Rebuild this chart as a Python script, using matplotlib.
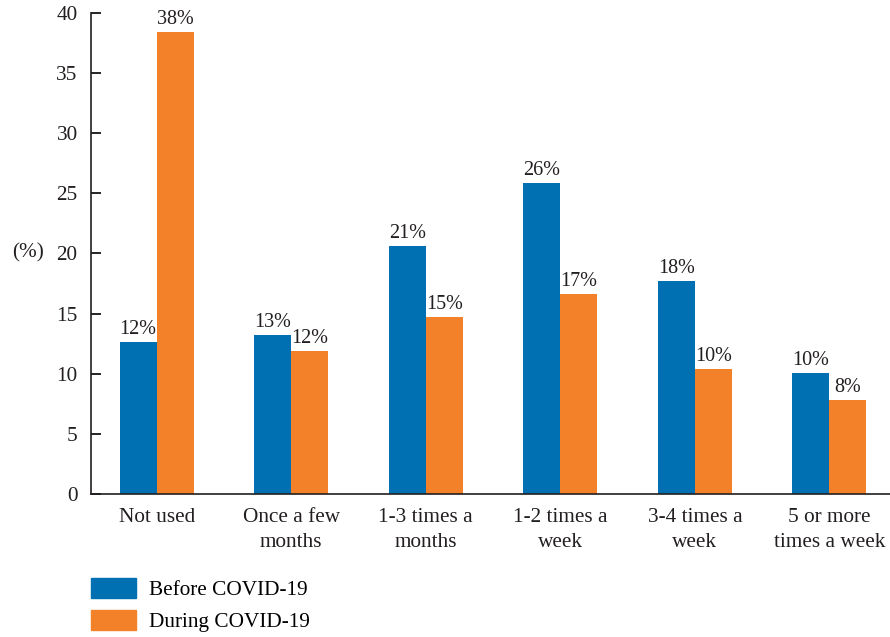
import numpy as np
import matplotlib
matplotlib.use("Agg")
import matplotlib.pyplot as plt
from matplotlib.patches import Patch

categories = ["Not used", "Once a few\nmonths", "1-3 times a\nmonths",
              "1-2 times a\nweek", "3-4 times a\nweek", "5 or more\ntimes a week"]
before = [12.6, 13.2, 20.6, 25.9, 17.7, 10.1]
during = [38.4, 11.9, 14.7, 16.6, 10.4, 7.8]
before_labels = ["12%", "13%", "21%", "26%", "18%", "10%"]
during_labels = ["38%", "12%", "15%", "17%", "10%", "8%"]
series_names = ["Before COVID-19", "During COVID-19"]

BLUE = "#0070b2"
ORANGE = "#f3812a"
TXT = "#231f20"
FS = 15.3

plt.rcParams['font.family'] = ['Liberation Serif', 'DejaVu Serif']

fig = plt.figure(figsize=(8.9, 6.37), dpi=100)
ax = fig.add_axes([0.102, 0.2245, 0.898, 0.7551])

x = np.arange(len(categories))
w = 0.275
b1 = ax.bar(x - w / 2, before, w, color=BLUE)
b2 = ax.bar(x + w / 2, during, w, color=ORANGE)

for bars, labs in ((b1, before_labels), (b2, during_labels)):
    for rect, lab in zip(bars, labs):
        ax.text(rect.get_x() + rect.get_width() / 2, rect.get_height() + 0.25, lab,
                ha='center', va='bottom', fontsize=14.5, color=TXT)

ax.set_xlim(-0.49, 5.45)
ax.set_ylim(0, 40)
ax.set_yticks(range(0, 41, 5))
ax.set_xticks(x)
ax.set_xticklabels(categories, fontsize=FS, color=TXT, linespacing=1.45)
ax.tick_params(axis='x', length=0, pad=10)
ax.tick_params(axis='y', direction='in', length=7, width=1.2, labelsize=FS,
               labelcolor=TXT, pad=9.5)
for s in ('top', 'right'):
    ax.spines[s].set_visible(False)
for s in ('left', 'bottom'):
    ax.spines[s].set_linewidth(1.2)
    ax.spines[s].set_color(TXT)

fig.text(12 / 890, 1 - 253 / 637, "(%)", fontsize=FS, color=TXT, va='center', ha='left')

handles = [Patch(color=BLUE), Patch(color=ORANGE)]
fig.legend(handles, series_names, loc='lower left', bbox_to_anchor=(91 / 890, 5 / 637),
           frameon=False, fontsize=FS, handlelength=2.1, handleheight=1.05,
           handletextpad=0.62, labelspacing=0.45, borderpad=0, borderaxespad=0)

fig.savefig("out.png", dpi=100)
